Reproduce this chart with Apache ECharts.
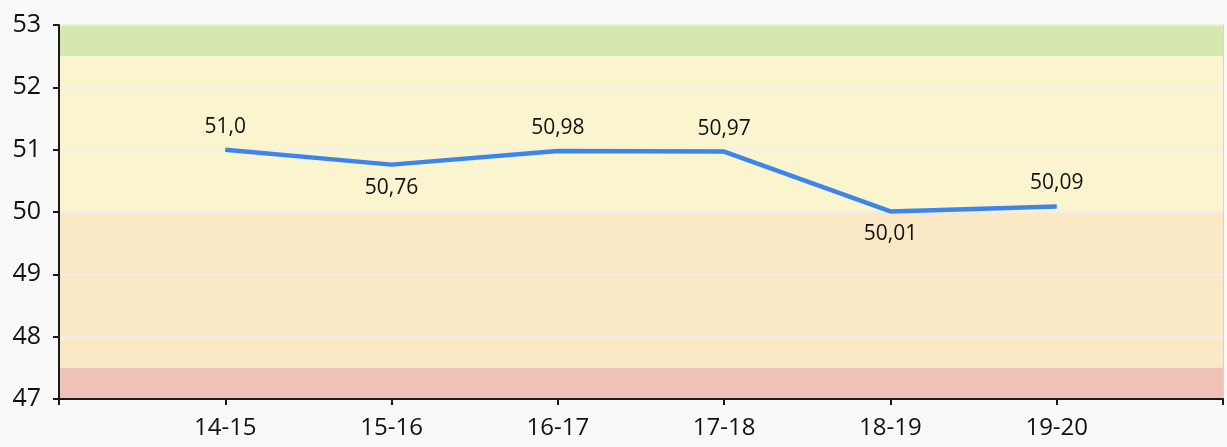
<!DOCTYPE html>
<html>
<head>
<meta charset="utf-8">
<script src="https://cdn.jsdelivr.net/npm/echarts@6/dist/echarts.min.js"></script>
<style>
html,body{margin:0;padding:0;background:#f9f9f9;}
#c{width:1227px;height:447px;}
</style>
</head>
<body>
<div id="c"></div>
<script>
// Categories (empty slots at both ends pad the axis as in the reference)
const categories = ['', '14-15', '15-16', '16-17', '17-18', '18-19', '19-20', ''];
const values = [null, 51.0, 50.76, 50.98, 50.97, 50.01, 50.09, null];
const valueLabels = ['', '51,0', '50,76', '50,98', '50,97', '50,01', '50,09', ''];
const labelPlacement = ['top', 'top', 'bottom', 'top', 'top', 'bottom', 'top', 'top'];
// Coloured bands: [from, to]
const bandRanges = [[52.5, 53], [50, 52.5], [47.5, 50], [47, 47.5]];
const bandColors = ['#d5e8b0', '#faf5cf', '#fbe9c5', '#f0c1b6'];
const yTicks = [47, 48, 49, 50, 51, 52, 53];

const chart = echarts.init(document.getElementById('c'));
const FONT = '"Open Sans", "Noto Sans", sans-serif';

chart.setOption({
  backgroundColor: '#f9f9f9',
  animation: false,
  grid: {
    left: 59, top: 25, right: 4, bottom: 48,
    show: true, borderColor: '#d4d4d4', borderWidth: 2, backgroundColor: 'transparent'
  },
  xAxis: {
    type: 'category',
    data: categories,
    boundaryGap: false,
    z: 6,
    axisLine: { lineStyle: { color: '#1a1a1a', width: 2 } },
    axisTick: { show: true, length: 6, inside: false, interval: 0, lineStyle: { color: '#1a1a1a', width: 2 } },
    axisLabel: { color: '#111', fontSize: 24, fontFamily: FONT, margin: 17, interval: 0 },
    splitLine: { show: false }
  },
  yAxis: {
    type: 'value',
    min: yTicks[0],
    max: yTicks[yTicks.length - 1],
    interval: 1,
    z: 1,
    axisLine: { show: true, lineStyle: { color: '#1a1a1a', width: 2 } },
    axisTick: { show: true, length: 6, lineStyle: { color: '#1a1a1a', width: 2 } },
    axisLabel: { color: '#111', fontSize: 25, fontFamily: FONT, margin: 18 },
    splitLine: { show: true, lineStyle: { color: 'rgba(238,238,238,0.95)', width: 2 } }
  },
  series: [{
    type: 'line',
    data: values.map((v, i) => ({
      value: v,
      label: { position: labelPlacement[i], formatter: valueLabels[i] }
    })),
    showSymbol: true,
    symbol: 'circle',
    symbolSize: 1,
    connectNulls: false,
    lineStyle: { color: '#3d84ec', width: 4.5 },
    itemStyle: { color: '#3d84ec' },
    label: {
      show: true, color: '#111', fontSize: 21, fontFamily: FONT, distance: 12
    },
    z: 5,
    markArea: {
      silent: true,
      z: 0,
      data: bandRanges.map((r, i) => [
        { yAxis: r[0], itemStyle: { color: bandColors[i], opacity: 1 } },
        { yAxis: r[1] }
      ])
    }
  }]
});
</script>
</body>
</html>
